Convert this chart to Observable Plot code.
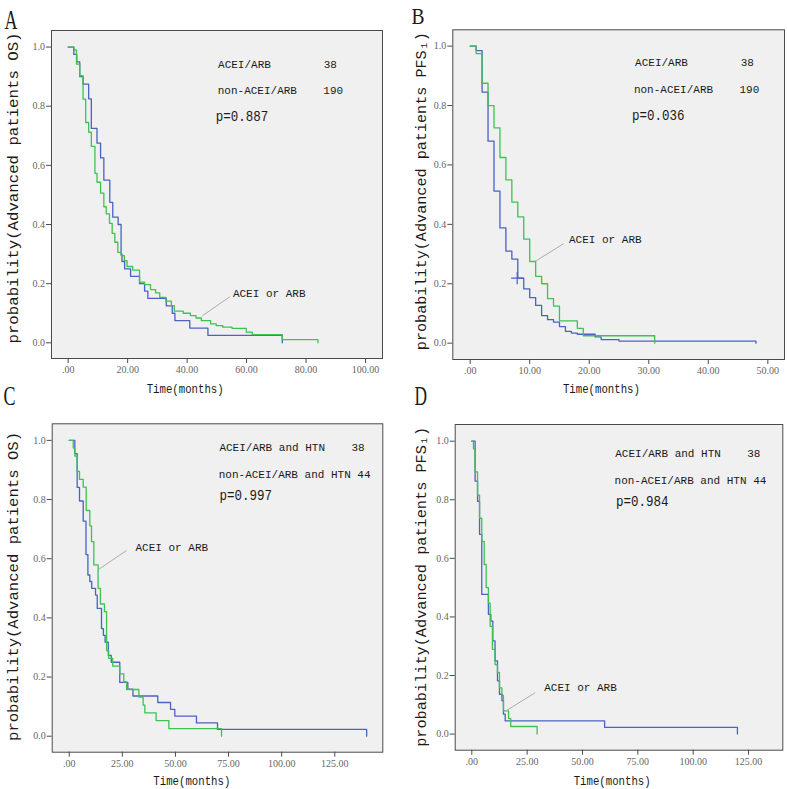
<!DOCTYPE html>
<html>
<head>
<meta charset="utf-8">
<script src="https://cdn.jsdelivr.net/npm/d3@7"></script>
<script src="https://cdn.jsdelivr.net/npm/@observablehq/plot@0.6"></script>
<style>
html, body { margin: 0; padding: 0; background: #fff; }
#root { position: relative; width: 787px; height: 789px; overflow: hidden; background: #fff; }
.panel { position: absolute; }
</style>
</head>
<body>
<div id="root"></div>
<script>
// ---------- data ----------
// Panel A: OS, ACEI/ARB vs non-ACEI/ARB
const aBlueTime  = [0,1.9,2.9,3.9,5.0,6.9,7.8,9.7,10.9,12.0,14.0,15.0,16.8,17.8,18.1,19.0,21.0,24.0,25.7,26.8,33.0,35.0,35.9,40.9,47.0,72.0];
const aBlueSurv  = [1,0.975,0.95,0.90,0.875,0.825,0.725,0.675,0.625,0.55,0.475,0.425,0.40,0.30,0.275,0.25,0.225,0.20,0.175,0.15,0.125,0.10,0.075,0.05,0.025,0];
const aGreenTime = [0,2.0,2.8,3.9,5.0,5.9,6.9,7.8,9.0,9.7,10.9,12.0,12.8,13.9,14.8,15.7,16.7,17.8,18.9,19.8,21.7,24.0,25.7,27.7,29.4,30.8,32.9,34.7,35.7,38.7,41.1,43.0,44.8,47.9,49.8,52.0,55.1,59.9,61.9,72.0,84.0];
const aGreenSurv = [1,0.99,0.942,0.903,0.824,0.745,0.712,0.664,0.573,0.543,0.506,0.46,0.436,0.404,0.37,0.34,0.306,0.295,0.278,0.258,0.246,0.205,0.197,0.18,0.169,0.154,0.141,0.126,0.107,0.10,0.092,0.084,0.075,0.064,0.058,0.053,0.049,0.036,0.028,0.011,0];

// Panel B: PFS1, ACEI/ARB vs non-ACEI/ARB
const bBlueTime  = [0,1,2,3,4,5,6,7,8,9,10,11,12,13,14,15,16,17,18,21,22,25,48];
const bBlueSurv  = [1,0.985,0.845,0.68,0.512,0.388,0.31,0.283,0.219,0.183,0.153,0.127,0.093,0.079,0.071,0.056,0.040,0.034,0.030,0.021,0.012,0.007,0];
const bGreenTime = [0,1,2,3,4,5,6,7,8,9,10,11,12,13,14,15,18,19,31];
const bGreenSurv = [1,0.975,0.875,0.80,0.725,0.625,0.55,0.475,0.425,0.35,0.275,0.225,0.20,0.15,0.125,0.075,0.05,0.025,0];
const bCensorTime = [7.9];
const bCensorSurv = [0.219];

// Panel C: OS, with hypertension
const cBlueTime  = [0,2.65,3.75,4.85,6.6,7.9,8.8,9.7,10.6,12.4,13.2,15.2,16.1,16.9,18.4,19.8,23.8,27.6,30.0,41.7,47.7,49.7,59.9,69.8,140];
const cBlueSurv  = [1,0.955,0.841,0.795,0.727,0.614,0.545,0.523,0.50,0.477,0.432,0.364,0.341,0.318,0.273,0.25,0.182,0.159,0.136,0.114,0.091,0.068,0.045,0.023,0];
const cGreenTime = [0,1.9,2.65,3.75,4.85,6.6,8.0,9.7,10.5,11.6,13.6,14.7,16.6,17.6,18.6,20.5,23.8,25.7,27.0,32.8,34.8,35.6,40.9,46.9,71.7];
const cGreenSurv = [1,0.974,0.947,0.895,0.868,0.842,0.763,0.711,0.658,0.579,0.50,0.447,0.421,0.289,0.263,0.237,0.211,0.184,0.158,0.132,0.105,0.079,0.053,0.026,0];

// Panel D: PFS1, with hypertension
const dBlueTime  = [0,1.5,2.6,3.5,4.5,7.5,8.6,9.5,10.5,11.6,12.5,13.6,14.3,15.1,60,120];
const dBlueSurv  = [1,0.864,0.795,0.682,0.477,0.409,0.386,0.318,0.25,0.182,0.136,0.114,0.068,0.045,0.023,0];
const dGreenTime = [0,0.75,1.5,2.6,3.5,4.5,5.6,6.5,7.5,8.3,9.3,10.5,11.6,12.5,13.6,14.3,16.6,17.6,29.5];
const dGreenSurv = [1,0.974,0.895,0.816,0.737,0.658,0.579,0.50,0.447,0.368,0.289,0.237,0.211,0.158,0.132,0.079,0.053,0.026,0];

// tick values and labels
const yTicks = [0, 0.2, 0.4, 0.6, 0.8, 1.0];
const xTicksA = [0, 20, 40, 60, 80, 100];
const xTicksB = [0, 10, 20, 30, 40, 50];
const xTicksCD = [0, 25, 50, 75, 100, 125];
const panelLetters = ["A", "B", "C", "D"];
const yTitleOS = "probability(Advanced patients OS)";
const yTitlePFS = "probability(Advanced patients PFS\u2081)";
const xTitle = "Time(months)";
const groupNamesAB = ["ACEI/ARB", "non-ACEI/ARB"];
const groupNamesCD = ["ACEI/ARB and HTN", "non-ACEI/ARB and HTN"];
const groupCountsAB = ["38", "190"];
const groupCountsCD = ["38", "44"];
const pValues = ["p=0.887", "p=0.036", "p=0.997", "p=0.984"];
const curveLabel = "ACEI or ARB";

// ---------- styling ----------
const BLUE = "#4a62c2";
const GREEN = "#3ec250";
const MONO = "Liberation Mono, DejaVu Sans Mono, monospace";
const SERIF = "Liberation Serif, DejaVu Serif, serif";
const ADV = 6.6; // px advance per character in annotations

const series = (times, surv) => times.map((t, i) => ({t, s: surv[i]}));
const fmtX = d => d === 0 ? ".00" : d.toFixed(2);

const panels = [
  { letter: panelLetters[0], left: 0, top: 0, width: 393, height: 394,
    m: {l: 51, t: 30, r: 11, b: 36}, xDomain: [-5.6, 105.7], yDomain: [-0.053, 1.056], xTicks: xTicksA,
    blue: series(aBlueTime, aBlueSurv), green: series(aGreenTime, aGreenSurv), censor: [],
    letterPos: [-47, -2], letterLen: 13, letterSize: 27,
    yTitle: yTitleOS, yTitlePos: [-34, -6.5], yTitleLen: 311,
    xTitlePos: [-31.8, 34],
    names: groupNamesAB, counts: groupCountsAB, countCols: [16, 16],
    groupPos: [[50.4, 0.928], [50.3, 0.841]],
    p: pValues[0], pPos: [49.6, 0.749],
    labelPos: [55.4, 0.154], leader: [54.4, 0.156, 45.1, 0.091] },
  { letter: panelLetters[1], left: 393, top: 0, width: 394, height: 394,
    m: {l: 59.3, t: 29.3, r: 3, b: 35}, xDomain: [-2.92, 52.8], yDomain: [-0.055, 1.055], xTicks: xTicksB,
    blue: series(bBlueTime, bBlueSurv), green: series(bGreenTime, bGreenSurv), censor: series(bCensorTime, bCensorSurv),
    letterPos: [-41.3, -6.3], letterLen: 13, letterSize: 24,
    yTitle: yTitlePFS, yTitlePos: [-27.3, -3.5], yTitleLen: 318,
    xTitlePos: [-17.2, 33],
    names: groupNamesAB, counts: groupCountsAB, countCols: [16, 16],
    groupPos: [[27.7, 0.932], [27.5, 0.842]],
    p: pValues[1], pPos: [27.2, 0.752],
    labelPos: [16.6, 0.337], leader: [15.7, 0.335, 10.9, 0.275] },
  { letter: panelLetters[2], left: 0, top: 394, width: 393, height: 395,
    m: {l: 51.7, t: 29.3, r: 10.7, b: 37.3}, xDomain: [-8.0, 147.6], yDomain: [-0.054, 1.056], xTicks: xTicksCD,
    blue: series(cBlueTime, cBlueSurv), green: series(cGreenTime, cGreenSurv), censor: [],
    letterPos: [-48.7, -19.3], letterLen: 12, letterSize: 28,
    yTitle: yTitleOS, yTitlePos: [-34.7, -1.5], yTitleLen: 309,
    xTitlePos: [-25.7, 33],
    names: groupNamesCD, counts: groupCountsCD, countCols: [20, 21],
    groupPos: [[70.7, 0.964], [70.4, 0.874]],
    p: pValues[2], pPos: [70.7, 0.80],
    labelPos: [31.2, 0.626], leader: [27.0, 0.628, 13.9, 0.564] },
  { letter: panelLetters[3], left: 393, top: 394, width: 394, height: 395,
    m: {l: 61.7, t: 30, r: 4.7, b: 39.3}, xDomain: [-7.5, 140.5], yDomain: [-0.055, 1.057], xTicks: xTicksCD,
    blue: series(dBlueTime, dBlueSurv), green: series(dGreenTime, dGreenSurv), censor: [],
    letterPos: [-40.7, -20], letterLen: 12.5, letterSize: 28,
    yTitle: yTitlePFS, yTitlePos: [-29.7, -0.5], yTitleLen: 320,
    xTitlePos: [-6.8, 35],
    names: groupNamesCD, counts: groupCountsCD, countCols: [20, 21],
    groupPos: [[64.8, 0.945], [64.5, 0.855]],
    p: pValues[3], pPos: [65.1, 0.78],
    labelPos: [32.7, 0.147], leader: [28.6, 0.141, 15.8, 0.081] }
];

const root = document.getElementById("root");
const ANNOT = {textAnchor: "start", lineAnchor: "bottom", fontFamily: MONO, fontSize: 11.5, fill: "#1a1a1a"};

for (const p of panels) {
  const rows = p.names.map((name, i) => ({name, count: p.counts[i], col: p.countCols[i], x: p.groupPos[i][0], y: p.groupPos[i][1]}));
  const countMarks = rows.map(r =>
    Plot.text([r], {x: "x", y: "y", text: "count", dx: r.col * ADV, ...ANNOT}));
  const chart = Plot.plot({
    width: p.width,
    height: p.height,
    marginLeft: p.m.l, marginTop: p.m.t, marginRight: p.m.r, marginBottom: p.m.b,
    style: {overflow: "visible", background: "transparent", color: "#222"},
    x: {domain: p.xDomain},
    y: {domain: p.yDomain},
    marks: [
      Plot.frame({fill: "#f0f0f0", stroke: "none"}),
      Plot.line(p.blue, {x: "t", y: "s", curve: "step-after", stroke: BLUE, strokeWidth: 1.3}),
      Plot.line(p.green, {x: "t", y: "s", curve: "step-after", stroke: GREEN, strokeWidth: 1.3}),
      Plot.dot(p.censor, {x: "t", y: "s", symbol: "plus", r: 4, stroke: BLUE, strokeWidth: 1.2}),
      Plot.frame({stroke: "#4a4a4a", strokeWidth: 1, fill: "none"}),
      Plot.axisX({ticks: p.xTicks, tickFormat: fmtX, tickSize: 5, tickPadding: 2.5, label: null,
        fontSize: 10, fontFamily: SERIF, fill: "#666", stroke: "#4a4a4a"}),
      Plot.axisY({ticks: yTicks, tickFormat: d3.format(".1f"), tickSize: 5, tickPadding: 1.5, label: null,
        fontSize: 10, fontFamily: SERIF, fill: "#666", stroke: "#4a4a4a"}),
      // leader line
      Plot.link([p.leader], {x1: d => d[0], y1: d => d[1], x2: d => d[2], y2: d => d[3], stroke: "#9a9a9a", strokeWidth: 0.8}),
      // annotations
      Plot.text(rows, {x: "x", y: "y", text: "name", ...ANNOT}),
      ...countMarks,
      Plot.text([p.p], {x: () => p.pPos[0], y: () => p.pPos[1], text: d => d, ...ANNOT, fontSize: 14}),
      Plot.text([curveLabel], {x: () => p.labelPos[0], y: () => p.labelPos[1], text: d => d, ...ANNOT}),
      // axis titles and panel letter
      Plot.text([xTitle], {frameAnchor: "bottom", dx: p.xTitlePos[0], dy: p.xTitlePos[1], text: d => d,
        lineAnchor: "bottom", fontFamily: MONO, fontSize: 12, fill: "#1a1a1a"}),
      Plot.text([p.yTitle], {frameAnchor: "left", rotate: -90, dx: p.yTitlePos[0], dy: p.yTitlePos[1], text: d => d,
        lineAnchor: "bottom", textAnchor: "middle", fontFamily: MONO, fontSize: 15, fill: "#1a1a1a"}),
      Plot.text([p.letter], {frameAnchor: "top-left", dx: p.letterPos[0], dy: p.letterPos[1], text: d => d,
        lineAnchor: "bottom", textAnchor: "start", fontFamily: SERIF, fontSize: p.letterSize, fill: "#1a1a1a"})
    ]
  });

  // match the widths of the original narrow half-width glyphs
  const lengths = {};
  for (const s of [...p.names, ...p.counts, curveLabel]) lengths[s] = s.length * ADV;
  lengths[p.p] = 52.5;
  lengths[xTitle] = 77;
  lengths[p.yTitle] = p.yTitleLen;
  lengths[p.letter] = p.letterLen;
  chart.querySelectorAll("text").forEach(el => {
    const s = el.textContent;
    if (!(s in lengths)) return;
    el.setAttribute("textLength", lengths[s]);
    el.setAttribute("lengthAdjust", "spacingAndGlyphs");
  });

  const holder = document.createElement("div");
  holder.className = "panel";
  holder.style.left = p.left + "px";
  holder.style.top = p.top + "px";
  holder.appendChild(chart);
  root.appendChild(holder);
}
</script>
</body>
</html>
